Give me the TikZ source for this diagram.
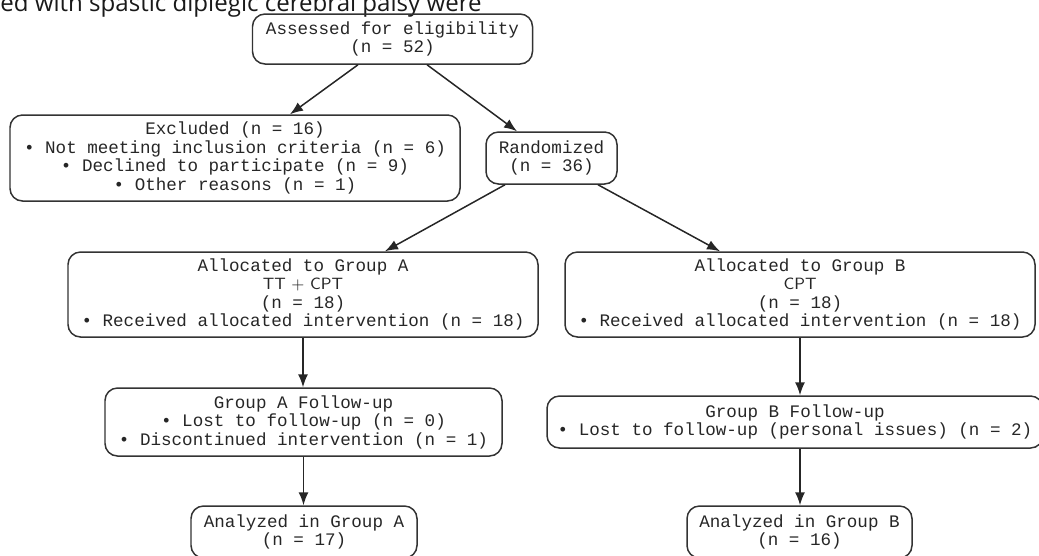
\documentclass[tikz,border=0pt]{standalone}
\usepackage{fontspec}
\setmainfont{Liberation Sans}
\setmonofont{Liberation Mono}
\newfontfamily\captionfont{Open Sans}
\usetikzlibrary{arrows.meta}

\begin{document}
\begin{tikzpicture}[
        box/.style={draw=black!80, line width=0.85pt, rounded corners=0.25cm, align=center,
          inner sep=0pt, font=\ttfamily\fontsize{10}{10.5}\selectfont, text=black!85},
        arr/.style={draw=black!85, line width=0.85pt, -{Latex[length=2.6mm,width=2mm]}},
        arm/.style={font=\sffamily\fontsize{9.3}{10.5}\selectfont}
      ]
        \useasboundingbox (0,0) rectangle (20.78,-11.1);
        \node[anchor=base west, inner sep=0pt, font=\captionfont\fontsize{13.7}{15}\selectfont, text=black!90] (caption) at (0,-0.22) {ed with spastic diplegic cerebral palsy were};
        \node[box, minimum width=5.6cm, minimum height=1cm] (assessed) at (7.85,-0.78) {Assessed for eligibility\\(n = 52)};
        \node[box, minimum width=9cm, minimum height=1.72cm] (excluded) at (4.7,-3.16) {Excluded (n = 16)\\• Not meeting inclusion criteria (n = 6)\\• Declined to participate (n = 9)\\• Other reasons (n = 1)};
        \node[box, minimum width=2.62cm, minimum height=1.04cm] (randomized) at (11.03,-3.16) {Randomized\\(n = 36)};
        \node[box, minimum width=9.4cm, minimum height=1.7cm] (allocA) at (6.06,-5.89) {Allocated to Group A\\{\sffamily\fontsize{9.3}{10.5}\selectfont TT + CPT}\\(n = 18)\\• Received allocated intervention (n = 18)};
        \node[box, minimum width=9.4cm, minimum height=1.7cm] (allocB) at (16,-5.89) {Allocated to Group B\\{\sffamily\fontsize{9.3}{10.5}\selectfont CPT}\\(n = 18)\\• Received allocated intervention (n = 18)};
        \node[box, minimum width=7.94cm, minimum height=1.36cm] (followA) at (6.07,-8.44) {Group A Follow-up\\• Lost to follow-up (n = 0)\\• Discontinued intervention (n = 1)};
        \node[box, minimum width=9.92cm, minimum height=1.04cm] (followB) at (15.9,-8.44) {Group B Follow-up\\• Lost to follow-up (personal issues) (n = 2)};
        \node[box, minimum width=4.52cm, minimum height=1.04cm] (analyzedA) at (6.08,-10.64) {Analyzed in Group A\\(n = 17)};
        \node[box, minimum width=4.5cm, minimum height=1.04cm] (analyzedB) at (15.99,-10.64) {Analyzed in Group B\\(n = 16)};
        \draw[arr] ([xshift=-0.69cm]assessed.south) -- ([xshift=1.1cm]excluded.north);
        \draw[arr] ([xshift=0.69cm]assessed.south) -- ([xshift=-0.69cm]randomized.north);
        \draw[arr] ([xshift=-0.93cm]randomized.south) -- ([xshift=1.64cm]allocA.north);
        \draw[arr] ([xshift=0.93cm]randomized.south) -- ([xshift=-1.6cm]allocB.north);
        \draw[arr] (allocA.south) -- (allocA.south |- followA.north);
        \draw[arr] (followA.south) -- (followA.south |- analyzedA.north);
        \draw[arr] (allocB.south) -- (allocB.south |- followB.north);
        \draw[arr] (followB.south -| allocB.south) -- (allocB.south |- analyzedB.north);
      \end{tikzpicture}
\end{document}
